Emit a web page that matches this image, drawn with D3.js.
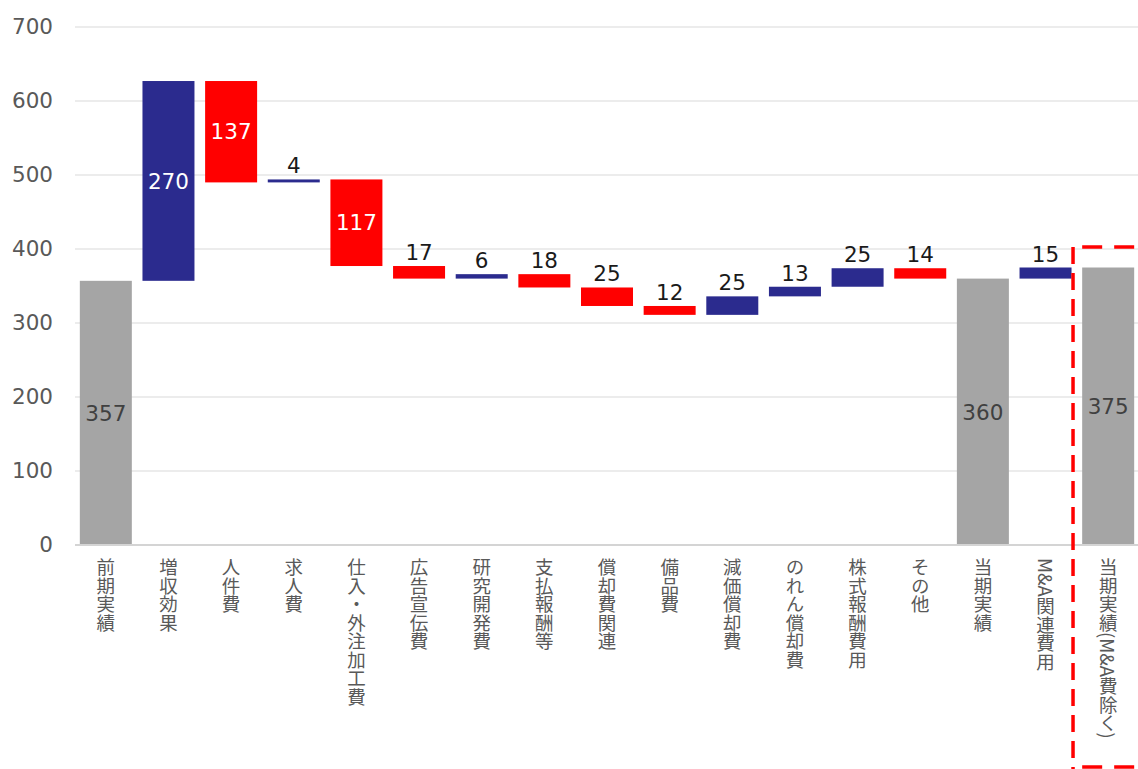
<!DOCTYPE html>
<html lang="ja">
<head>
<meta charset="utf-8">
<script src="https://cdn.jsdelivr.net/npm/d3@7"></script>
<style>
  html, body { margin: 0; padding: 0; background: #ffffff; }
  svg { display: block; }
  .cat { writing-mode: vertical-rl; }
</style>
</head>
<body>
<svg id="chart" width="1138" height="769"></svg>
<script>
// Operating profit bridge: previous period -> current period
const categories = [
  "前期実績", "増収効果", "人件費", "求人費", "仕入・外注加工費", "広告宣伝費",
  "研究開発費", "支払報酬等", "償却費関連", "備品費", "減価償却費", "のれん償却費",
  "株式報酬費用", "その他", "当期実績", "M&A関連費用", "当期実績(M&A費除く)"
];
// Totals are absolute levels; every other entry is a change from the running level
const values = [357, 270, -137, 4, -117, -17, 6, -18, -25, -12, 25, 13, 25, -14, 360, 15, 375];
const totalCategories = ["前期実績", "当期実績", "当期実績(M&A費除く)"];
const yTicks = [0, 100, 200, 300, 400, 500, 600, 700];

const W = 1138, H = 769;
const svg = d3.select("#chart");

const x = d3.scaleBand()
  .domain(categories)
  .range([74.5, 1139.5])
  .paddingInner(0.17)
  .paddingOuter(0.085);

const y = d3.scaleLinear().domain([0, 700]).range([545, 27]);

// Build waterfall segments
let level = 0;
const bars = categories.map((c, i) => {
  const v = values[i];
  if (totalCategories.includes(c)) {
    level = v;
    return { c, v, lo: 0, hi: v, kind: "total" };
  }
  const start = level;
  level = start + v;
  return { c, v, lo: Math.min(start, level), hi: Math.max(start, level), kind: v >= 0 ? "up" : "down" };
});

const fill = { total: "#a5a5a5", up: "#2b2b8e", down: "#ff0000" };
const numFont = "'DejaVu Sans', 'Noto Sans CJK JP', sans-serif";

// Gridlines
svg.append("g")
  .selectAll("line")
  .data(yTicks.filter(t => t > 0))
  .join("line")
  .attr("x1", 75).attr("x2", W)
  .attr("y1", d => y(d)).attr("y2", d => y(d))
  .attr("stroke", "#d9d9d9").attr("stroke-width", 1.2);

// Y axis labels
const yAxis = svg.append("g")
  .attr("transform", "translate(53,0)")
  .call(d3.axisLeft(y).tickValues(yTicks).tickSize(0).tickPadding(0));
yAxis.select(".domain").remove();
yAxis.selectAll("text")
  .attr("font-family", numFont)
  .attr("font-size", 21.5)
  .attr("fill", "#595959");

// Bars
svg.append("g")
  .selectAll("rect")
  .data(bars)
  .join("rect")
  .attr("x", d => x(d.c))
  .attr("width", x.bandwidth())
  .attr("y", d => y(d.hi))
  .attr("height", d => Math.max(2, y(d.lo) - y(d.hi)))
  .attr("fill", d => fill[d.kind]);

// Baseline
svg.append("line")
  .attr("x1", 75).attr("x2", W)
  .attr("y1", y(0)).attr("y2", y(0))
  .attr("stroke", "#d4d4d4").attr("stroke-width", 2);

// Value labels
const inside = d => d.kind === "total" || Math.abs(d.v) >= 100;
svg.append("g")
  .selectAll("text")
  .data(bars)
  .join("text")
  .attr("x", d => x(d.c) + x.bandwidth() / 2)
  .attr("y", d => inside(d) ? (y(d.lo) + y(d.hi)) / 2 : y(d.hi) - 6)
  .attr("dy", d => inside(d) ? "0.36em" : 0)
  .attr("text-anchor", "middle")
  .attr("font-family", numFont)
  .attr("font-size", 21.5)
  .attr("fill", d => inside(d) ? (d.kind === "total" ? "#404040" : "#ffffff") : "#1a1a1a")
  .text(d => Math.abs(d.v));

// Category labels, written vertically
svg.append("g")
  .selectAll("text")
  .data(categories)
  .join("text")
  .attr("class", "cat")
  .attr("x", d => x(d) + x.bandwidth() / 2)
  .attr("y", 558)
  .attr("font-family", "'Noto Sans CJK JP', 'DejaVu Sans', sans-serif")
  .attr("font-size", 18.5)
  .attr("fill", "#595959")
  .text(d => d);

// Dashed highlight frame around the adjusted result
const last = categories[categories.length - 1];
const prev = categories[categories.length - 2];
const fx = x(prev) + x.bandwidth() + 1.5;
const fy = y(400) - 2;
const frame = svg.append("g")
  .attr("stroke", "#ff0000")
  .attr("stroke-width", 3.5)
  .attr("fill", "none");
frame.append("line")
  .attr("x1", fx).attr("x2", fx)
  .attr("y1", fy).attr("y2", H)
  .attr("stroke-dasharray", "17 9");
frame.append("line")
  .attr("x1", x(last)).attr("x2", W)
  .attr("y1", fy).attr("y2", fy)
  .attr("stroke-dasharray", "20 12");
frame.append("line")
  .attr("x1", x(last)).attr("x2", W)
  .attr("y1", H - 2).attr("y2", H - 2)
  .attr("stroke-dasharray", "20 12");
</script>
</body>
</html>
